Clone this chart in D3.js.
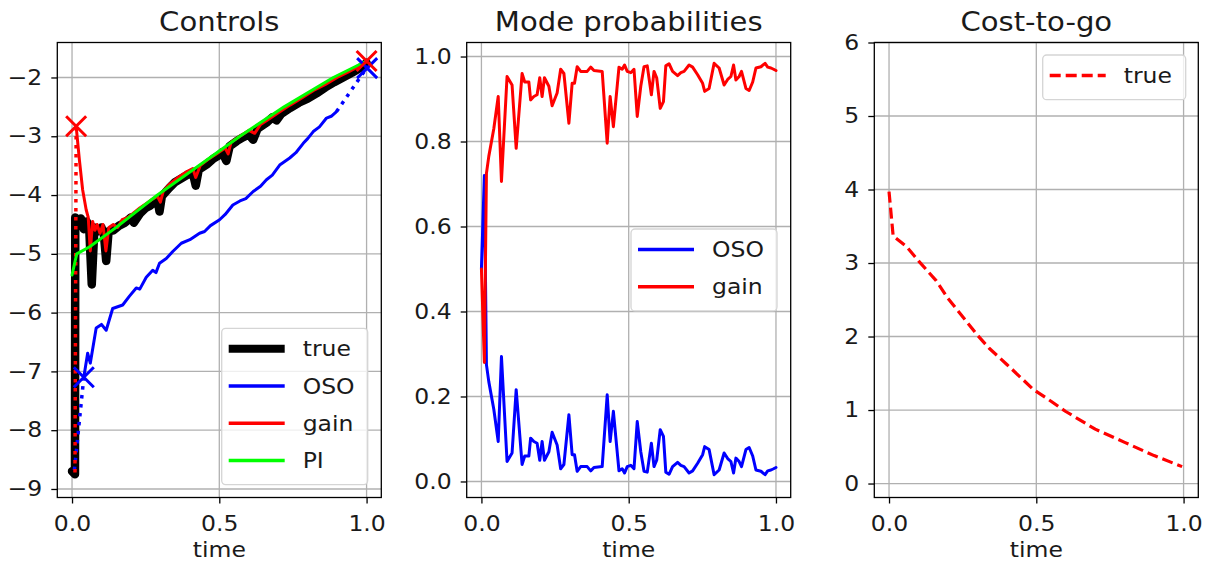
<!DOCTYPE html>
<html>
<head>
<meta charset="utf-8">
<script src="https://cdn.jsdelivr.net/npm/d3@7"></script>
<style>
body { margin: 0; background: #fff; }
svg { display: block; }
text { font-family: "DejaVu Sans", sans-serif; fill: #1a1a1a; }
</style>
</head>
<body>
<div id="chart"></div>
<script>
// ---------------- data ----------------
const timeTicks    = [0, 0.5, 1.0];
const controlTicks = [-9, -8, -7, -6, -5, -4, -3, -2];
const probTicks    = [0, 0.2, 0.4, 0.6, 0.8, 1.0];
const costTicks    = [0, 1, 2, 3, 4, 5, 6];

// Controls panel, [time, control]
const trueCtrl = [[0, -8.70], [0.010, -8.75], [0.011, -4.38], [0.02, -4.45], [0.03, -4.40], [0.04, -4.58],
  [0.05, -4.45], [0.058, -4.52], [0.067, -5.52], [0.076, -4.55], [0.087, -4.62], [0.10, -4.55], [0.108, -4.66],
  [0.116, -5.12], [0.124, -4.62], [0.14, -4.60], [0.16, -4.52], [0.18, -4.47], [0.20, -4.38], [0.21, -4.47],
  [0.23, -4.32], [0.25, -4.22], [0.265, -4.18], [0.28, -4.12], [0.29, -4.08], [0.297, -4.28], [0.305, -4.02],
  [0.33, -3.88], [0.35, -3.78], [0.37, -3.72], [0.39, -3.66], [0.41, -3.62], [0.42, -3.84], [0.43, -3.57],
  [0.46, -3.47], [0.48, -3.38], [0.50, -3.32], [0.51, -3.27], [0.524, -3.42], [0.535, -3.17], [0.56, -3.08],
  [0.58, -3.02], [0.60, -2.97], [0.615, -3.06], [0.63, -2.87], [0.66, -2.77], [0.68, -2.68], [0.694, -2.73],
  [0.71, -2.62], [0.74, -2.52], [0.77, -2.43], [0.80, -2.36], [0.83, -2.27], [0.86, -2.17], [0.89, -2.08],
  [0.92, -2.0], [0.95, -1.92], [0.98, -1.83], [1.0, -1.75]];
const osoCtrl = [[0.04, -7.10], [0.053, -6.69], [0.062, -6.86], [0.082, -6.26], [0.10, -6.20], [0.116, -6.30],
  [0.138, -5.93], [0.155, -5.90], [0.172, -5.87], [0.195, -5.72], [0.218, -5.58], [0.23, -5.60], [0.252, -5.40],
  [0.274, -5.28], [0.285, -5.32], [0.297, -5.16], [0.32, -5.08], [0.342, -4.96], [0.371, -4.82], [0.40, -4.76],
  [0.433, -4.65], [0.45, -4.62], [0.47, -4.52], [0.501, -4.42], [0.52, -4.33], [0.546, -4.17], [0.57, -4.10],
  [0.59, -4.06], [0.615, -3.94], [0.64, -3.85], [0.66, -3.74], [0.68, -3.66], [0.705, -3.49], [0.739, -3.37],
  [0.76, -3.28], [0.785, -3.12], [0.80, -3.04], [0.819, -2.92], [0.84, -2.84], [0.864, -2.69], [0.88, -2.66],
  [0.898, -2.58]];
const osoStart  = [[0.008, -8.68], [0.04, -7.10]];
const osoEnd    = [[0.898, -2.58], [1.0, -1.84]];
const osoMarks  = [[0.04, -7.10], [1.002, -1.84]];
const gainCtrl = [[0.014, -2.83], [0.025, -3.40], [0.036, -3.91], [0.048, -4.25], [0.055, -4.38], [0.062, -4.95],
  [0.07, -4.45], [0.078, -4.60], [0.085, -4.50], [0.095, -4.65], [0.105, -4.50], [0.115, -4.95], [0.125, -4.55],
  [0.14, -4.50], [0.155, -4.55], [0.17, -4.42], [0.19, -4.38], [0.21, -4.30], [0.23, -4.22], [0.25, -4.15],
  [0.27, -4.08], [0.29, -4.02], [0.30, -4.12], [0.31, -3.93], [0.33, -3.82], [0.36, -3.70], [0.39, -3.60],
  [0.41, -3.55], [0.42, -3.70], [0.435, -3.50], [0.46, -3.40], [0.49, -3.30], [0.52, -3.20], [0.53, -3.30],
  [0.54, -3.10], [0.57, -3.0], [0.60, -2.90], [0.62, -2.95], [0.64, -2.80], [0.67, -2.70], [0.70, -2.60],
  [0.74, -2.47], [0.78, -2.35], [0.82, -2.22], [0.86, -2.12], [0.90, -2.0], [0.94, -1.90], [0.97, -1.82], [1.0, -1.73]];
const gainStart = [[0.010, -8.72], [0.014, -2.83]];
const gainMarks = [[0.014, -2.83], [1.0, -1.72]];
const piCtrl = [[0, -5.36], [0.016, -5.0], [0.06, -4.88], [0.15, -4.55], [0.29, -4.0], [0.43, -3.5],
  [0.57, -3.0], [0.72, -2.5], [0.887, -2.0], [1.0, -1.72]];

// Mode probabilities panel
const modeTime = [0, 0.010, 0.017, 0.025, 0.042, 0.057, 0.068, 0.087, 0.104, 0.118, 0.138, 0.147, 0.161, 0.167,
  0.178, 0.189, 0.198, 0.206, 0.214, 0.229, 0.240, 0.257, 0.269, 0.280, 0.297, 0.308, 0.316, 0.325, 0.337, 0.359,
  0.371, 0.382, 0.410, 0.427, 0.437, 0.448, 0.467, 0.478, 0.486, 0.495, 0.507, 0.518, 0.529, 0.541, 0.552, 0.563,
  0.577, 0.586, 0.595, 0.607, 0.618, 0.626, 0.637, 0.649, 0.666, 0.677, 0.688, 0.705, 0.717, 0.734, 0.751, 0.758,
  0.773, 0.790, 0.807, 0.824, 0.836, 0.847, 0.856, 0.864, 0.875, 0.883, 0.898, 0.909, 0.921, 0.932, 0.949, 0.963,
  0.972, 0.983, 0.992, 1.0];
const gainProb = [0.50, 0.28, 0.725, 0.765, 0.83, 0.906, 0.706, 0.953, 0.933, 0.784, 0.96, 0.94, 0.94, 0.898,
  0.906, 0.91, 0.95, 0.906, 0.95, 0.93, 0.884, 0.914, 0.97, 0.96, 0.843, 0.937, 0.937, 0.976, 0.965, 0.965,
  0.975, 0.967, 0.965, 0.796, 0.906, 0.835, 0.975, 0.97, 0.98, 0.965, 0.962, 0.97, 0.859, 0.93, 0.976, 0.978,
  0.91, 0.965, 0.95, 0.878, 0.894, 0.978, 0.983, 0.965, 0.955, 0.962, 0.965, 0.98, 0.975, 0.957, 0.937, 0.918,
  0.925, 0.984, 0.973, 0.933, 0.946, 0.953, 0.98, 0.945, 0.953, 0.965, 0.925, 0.92, 0.94, 0.973, 0.976, 0.984,
  0.975, 0.973, 0.97, 0.967];
const osoProb = [0.50, 0.72, 0.275, 0.235, 0.17, 0.094, 0.294, 0.047, 0.067, 0.216, 0.04, 0.06, 0.06, 0.102,
  0.094, 0.09, 0.05, 0.094, 0.05, 0.07, 0.116, 0.086, 0.03, 0.04, 0.157, 0.063, 0.063, 0.024, 0.035, 0.035,
  0.025, 0.033, 0.035, 0.204, 0.094, 0.165, 0.025, 0.03, 0.02, 0.035, 0.038, 0.03, 0.141, 0.07, 0.024, 0.022,
  0.09, 0.035, 0.05, 0.122, 0.106, 0.022, 0.017, 0.035, 0.045, 0.038, 0.035, 0.02, 0.025, 0.043, 0.063, 0.082,
  0.075, 0.016, 0.027, 0.067, 0.054, 0.047, 0.02, 0.055, 0.047, 0.035, 0.075, 0.08, 0.06, 0.027, 0.024, 0.016,
  0.025, 0.027, 0.03, 0.033];

// Cost-to-go panel
const costTime = [0, 0.014, 0.06, 0.10, 0.16, 0.20, 0.26, 0.30, 0.34, 0.40, 0.49, 0.55, 0.60, 0.70, 0.80, 0.90, 0.995];
const costTrue = [3.97, 3.37, 3.22, 3.03, 2.76, 2.52, 2.22, 2.02, 1.84, 1.62, 1.28, 1.12, 0.98, 0.74, 0.56, 0.38, 0.23];

// ---------------- layout ----------------
const width  = 1206;
const height = 566;
const panelW = 324;
const panelH = 455;
const panelTop = 42.5;
const sx = 1.12;          // the picture's text is a bit wider than DejaVu
const tickFont = 21;

const svg = d3.select("#chart")
    .append("svg")
    .attr("width", width)
    .attr("height", height);

function stretch(sel) {
    sel.each(function() {
        const t = d3.select(this);
        const x0 = +t.attr("x") || 0;
        t.attr("x", x0 / sx).attr("transform", `scale(${sx},1)`);
    });
}

function panel(id, left, title, yDomain, yTicks, yFmt) {
    const g = svg.append("g")
        .attr("id", id)
        .attr("transform", `translate(${left}, ${panelTop})`);

    const x = d3.scaleLinear().domain([-0.05, 1.05]).range([0, panelW]);
    const y = d3.scaleLinear().domain(yDomain).range([panelH, 0]);

    g.append("clipPath").attr("id", id + "-clip")
        .append("rect").attr("width", panelW).attr("height", panelH);

    const grid = g.append("g").attr("stroke", "#b0b0b0").attr("stroke-width", 1.3);
    grid.selectAll("line.v").data(timeTicks).join("line")
        .attr("class", "v")
        .attr("x1", d => x(d)).attr("x2", d => x(d))
        .attr("y1", 0).attr("y2", panelH);
    grid.selectAll("line.h").data(yTicks).join("line")
        .attr("class", "h")
        .attr("x1", 0).attr("x2", panelW)
        .attr("y1", d => y(d)).attr("y2", d => y(d));

    const xAxisGroup = g.append("g")
        .attr("transform", `translate(0, ${panelH})`)
        .call(d3.axisBottom(x).tickValues(timeTicks).tickFormat(d3.format(".1f"))
            .tickSize(6).tickSizeOuter(0).tickPadding(12.5));
    const yAxisGroup = g.append("g")
        .call(d3.axisLeft(y).tickValues(yTicks).tickFormat(yFmt)
            .tickSize(6).tickSizeOuter(0).tickPadding(9));

    [xAxisGroup, yAxisGroup].forEach(a => {
        a.select(".domain").remove();
        a.selectAll(".tick line").attr("stroke", "#000").attr("stroke-width", 1.3);
        a.selectAll("text").attr("font-size", tickFont).attr("fill", "#1a1a1a");
        stretch(a.selectAll("text"));
    });

    const plot = g.append("g").attr("clip-path", `url(#${id}-clip)`);

    g.append("rect")
        .attr("width", panelW).attr("height", panelH)
        .attr("fill", "none").attr("stroke", "#000").attr("stroke-width", 1.3);

    g.append("text")
        .text(title)
        .attr("x", panelW / 2).attr("y", -12)
        .attr("text-anchor", "middle")
        .attr("font-size", 26)
        .call(stretch);

    g.append("text")
        .text("time")
        .attr("x", panelW / 2).attr("y", panelH + 60)
        .attr("text-anchor", "middle")
        .attr("font-size", tickFont)
        .call(stretch);

    return {g, plot, x, y};
}

function drawLine(p, data, color, w, dash) {
    const line = d3.line().x(d => p.x(d[0])).y(d => p.y(d[1]));
    p.plot.append("path")
        .datum(data)
        .attr("d", line)
        .attr("fill", "none")
        .attr("stroke", color)
        .attr("stroke-width", w)
        .attr("stroke-linejoin", "round")
        .attr("stroke-linecap", dash ? "butt" : "round")
        .attr("stroke-dasharray", dash || null);
}

function drawCrosses(p, data, color, size) {
    const s = size / 2;
    p.plot.selectAll(null).data(data).join("path")
        .attr("d", d => {
            const cx = p.x(d[0]), cy = p.y(d[1]);
            return `M${cx - s},${cy - s}L${cx + s},${cy + s}M${cx - s},${cy + s}L${cx + s},${cy - s}`;
        })
        .attr("stroke", color)
        .attr("stroke-width", 3)
        .attr("fill", "none");
}

function legend(p, items, bx, by, bw) {
    const rowH = 37.2;
    const lg = p.g.append("g");
    lg.append("rect")
        .attr("x", bx).attr("y", by)
        .attr("width", bw).attr("height", rowH * items.length + 7.5)
        .attr("rx", 4)
        .attr("fill", "#fff").attr("fill-opacity", 0.8)
        .attr("stroke", "#d5d5d5").attr("stroke-width", 1.3);
    items.forEach((it, i) => {
        const ry = by + 20.5 + i * rowH;
        lg.append("line")
            .attr("x1", bx + 7).attr("x2", bx + 63)
            .attr("y1", ry).attr("y2", ry)
            .attr("stroke", it.color)
            .attr("stroke-width", it.width)
            .attr("stroke-dasharray", it.dash || null);
        lg.append("text")
            .text(it.label)
            .attr("x", bx + 81).attr("y", ry)
            .attr("dy", "0.36em")
            .attr("font-size", tickFont)
            .call(stretch);
    });
}

// ---------------- Controls ----------------
const p1 = panel("controls", 57.3, "Controls", [-9.145, -1.405], controlTicks, d3.format("d"));
drawLine(p1, trueCtrl, "#000", 8.5);
drawLine(p1, osoCtrl, "#0000ff", 3);
drawLine(p1, osoStart, "#0000ff", 3.5, "3.5,5.5");
drawLine(p1, osoEnd, "#0000ff", 3.5, "3.5,5.5");
drawLine(p1, gainCtrl, "#ff0000", 3);
drawLine(p1, gainStart, "#ff0000", 3.5, "3.5,5.5");
drawLine(p1, piCtrl, "#00ff00", 3);
drawCrosses(p1, osoMarks, "#0000ff", 20);
drawCrosses(p1, gainMarks, "#ff0000", 20);
legend(p1, [
    {label: "true", color: "#000", width: 8},
    {label: "OSO",  color: "#0000ff", width: 3.5},
    {label: "gain", color: "#ff0000", width: 3.5},
    {label: "PI",   color: "#00ff00", width: 3.5}
], 164.4, 285.8, 146);

// ---------------- Mode probabilities ----------------
const p2 = panel("modes", 466.7, "Mode probabilities", [-0.0377, 1.033], probTicks, d3.format(".1f"));
drawLine(p2, modeTime.map((t, i) => [t, osoProb[i]]), "#0000ff", 3);
drawLine(p2, modeTime.map((t, i) => [t, gainProb[i]]), "#ff0000", 3);
legend(p2, [
    {label: "OSO",  color: "#0000ff", width: 3.5},
    {label: "gain", color: "#ff0000", width: 3.5}
], 164.3, 186.5, 146);

// ---------------- Cost-to-go ----------------
const p3 = panel("cost", 874.3, "Cost-to-go", [-0.19, 6], costTicks, d3.format("d"));
drawLine(p3, costTime.map((t, i) => [t, costTrue[i]]), "#ff0000", 3.2, "11,5");
legend(p3, [
    {label: "true", color: "#ff0000", width: 3.5, dash: "11,5"}
], 168.4, 12.5, 143);
</script>
</body>
</html>
